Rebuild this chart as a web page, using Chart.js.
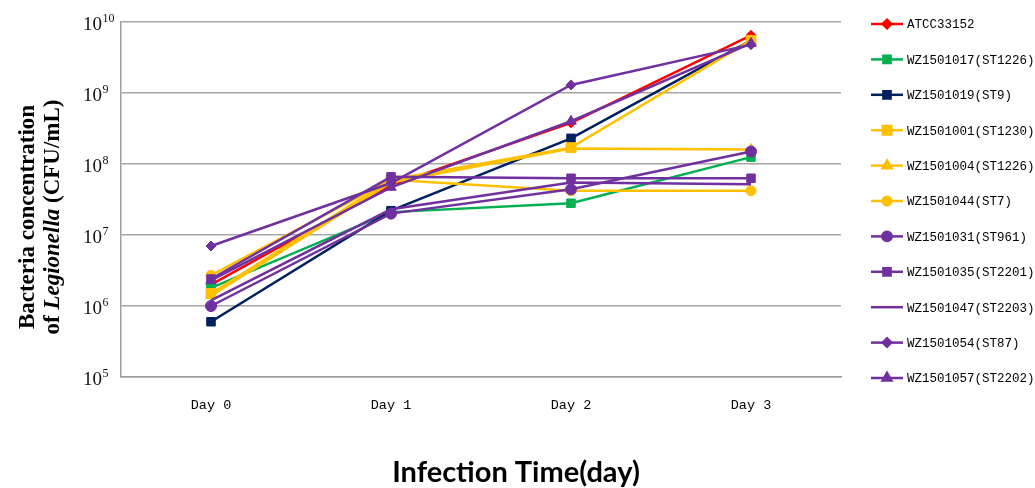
<!DOCTYPE html>
<html>
<head>
<meta charset="utf-8">
<script src="https://cdn.jsdelivr.net/npm/chart.js@4.4.1/dist/chart.umd.min.js"></script>
<style>
  html, body { margin: 0; background: #fff; }
  #wrap { width: 1035px; height: 488px; position: relative; }
</style>
</head>
<body>
<div id="wrap"><canvas id="growthChart"></canvas></div>
<script>
// categories
const days = ["Day 0", "Day 1", "Day 2", "Day 3"];
const yTickValues = [1e5, 1e6, 1e7, 1e8, 1e9, 1e10];
const yTickExponents = ["5", "6", "7", "8", "9", "10"];

// CFU/mL per strain
const atcc33152 = [2.0e6, 5.0e7, 3.8e8, 6.5e9];
const wz1501017 = [1.8e6, 2.1e7, 2.8e7, 1.25e8];
const wz1501019 = [6.0e5, 2.2e7, 2.3e8, 5.5e9];
const wz1501001 = [1.5e6, 6.0e7, 1.7e8, 5.5e9];
const wz1501004 = [1.4e6, 5.5e7, 1.65e8, 1.6e8];
const wz1501044 = [2.7e6, 6.0e7, 4.2e7, 4.2e7];
const wz1501031 = [1.0e6, 2.0e7, 4.4e7, 1.5e8];
const wz1501035 = [2.4e6, 6.6e7, 6.3e7, 6.3e7];
const wz1501047 = [1.2e6, 2.3e7, 5.5e7, 5.2e7];
const wz1501054 = [7.0e6, 5.4e7, 1.3e9, 4.8e9];
const wz1501057 = [2.3e6, 4.7e7, 4.0e8, 5.0e9];

const RED = "#FF0000", GREEN = "#00B050", NAVY = "#002060", ORANGE = "#FFC000", PURPLE = "#7030A0";

const series = [
  { label: "ATCC33152", data: atcc33152, color: RED, style: "rectRot", r: 5 },
  { label: "WZ1501017(ST1226)", data: wz1501017, color: GREEN, style: "rect", r: 6 },
  { label: "WZ1501019(ST9)", data: wz1501019, color: NAVY, style: "rect", r: 6 },
  { label: "WZ1501001(ST1230)", data: wz1501001, color: ORANGE, style: "rect", r: 7 },
  { label: "WZ1501004(ST1226)", data: wz1501004, color: ORANGE, style: "triangle", r: 6 },
  { label: "WZ1501044(ST7)", data: wz1501044, color: ORANGE, style: "circle", r: 5 },
  { label: "WZ1501031(ST961)", data: wz1501031, color: PURPLE, style: "circle", r: 5.5 },
  { label: "WZ1501035(ST2201)", data: wz1501035, color: PURPLE, style: "rect", r: 6 },
  { label: "WZ1501047(ST2203)", data: wz1501047, color: PURPLE, style: false, r: 0 },
  { label: "WZ1501054(ST87)", data: wz1501054, color: PURPLE, style: "rectRot", r: 5 },
  { label: "WZ1501057(ST2202)", data: wz1501057, color: PURPLE, style: "triangle", r: 6 }
];

function drawMarker(ctx, style, r, x, y) {
  if (!style || r <= 0) return;
  if (Chart.helpers && Chart.helpers.drawPoint) {
    Chart.helpers.drawPoint(ctx, { pointStyle: style, radius: r, rotation: 0, borderWidth: 1 }, x, y);
  }
}

// custom legend, power-of-ten tick labels and axis titles
const decorations = {
  id: "decorations",
  afterDraw(chart) {
    const ctx = chart.ctx;
    ctx.save();

    // y tick labels as 10 with raised exponent
    const yScale = chart.scales.y;
    ctx.fillStyle = "#111";
    ctx.textAlign = "left";
    ctx.textBaseline = "alphabetic";
    yTickValues.forEach((v, i) => {
      const py = yScale.getPixelForValue(v);
      ctx.font = "19px 'Liberation Serif'";
      ctx.fillText("10", 83, py + 8);
      const w = ctx.measureText("10").width;
      ctx.font = "12px 'Liberation Serif'";
      ctx.fillText(yTickExponents[i], 83 + w + 0.5, py);
    });

    // legend
    const rowTop = 24, rowGap = 35.4;
    chart.data.datasets.forEach((ds, i) => {
      const y = rowTop + i * rowGap;
      ctx.strokeStyle = ds.borderColor;
      ctx.fillStyle = ds.borderColor;
      ctx.lineWidth = 2.5;
      ctx.beginPath();
      ctx.moveTo(871, y);
      ctx.lineTo(903, y);
      ctx.stroke();
      drawMarker(ctx, ds.pointStyle, series[i].r * 0.85, 887, y);
      ctx.fillStyle = "#000";
      ctx.font = "12.5px 'Liberation Mono'";
      ctx.textAlign = "left";
      ctx.textBaseline = "middle";
      ctx.fillText(ds.label, 907, y + 1);
    });

    // y title, two rotated lines
    ctx.save();
    ctx.translate(0, 217);
    ctx.rotate(-Math.PI / 2);
    ctx.fillStyle = "#000";
    ctx.textBaseline = "middle";
    ctx.textAlign = "center";
    ctx.font = "bold 23px 'Liberation Serif'";
    ctx.fillText("Bacteria concentration", 0, 28);
    const parts = [
      ["of ", "bold 23px 'Liberation Serif'"],
      ["Legionella", "italic bold 23px 'Liberation Serif'"],
      [" (CFU/mL)", "bold 23px 'Liberation Serif'"]
    ];
    let total = 0;
    parts.forEach(p => { ctx.font = p[1]; total += ctx.measureText(p[0]).width; });
    let x = -total / 2;
    ctx.textAlign = "left";
    parts.forEach(p => {
      ctx.font = p[1];
      ctx.fillText(p[0], x, 53);
      x += ctx.measureText(p[0]).width;
    });
    ctx.restore();

    // x title
    ctx.fillStyle = "#000";
    ctx.font = "bold 29px Lato";
    ctx.textAlign = "center";
    ctx.textBaseline = "alphabetic";
    ctx.fillText("Infection Time(day)", 516, 482);

    ctx.restore();
  }
};

const ctx = document.getElementById("growthChart").getContext("2d");
new Chart(ctx, {
  type: "line",
  data: {
    labels: days,
    datasets: series.map((s, i) => ({
      label: s.label,
      data: s.data,
      borderColor: s.color,
      backgroundColor: s.color,
      borderWidth: 2.5,
      pointStyle: s.style,
      pointRadius: s.r,
      pointBorderWidth: 1,
      tension: 0,
      fill: false,
      order: series.length - i
    }))
  },
  options: {
    responsive: true,
    maintainAspectRatio: false,
    animation: false,
    layout: { padding: { left: 83, top: 22, right: 194, bottom: 0 } },
    scales: {
      x: {
        type: "category",
        offset: true,
        grid: { display: false, drawTicks: false },
        border: { display: true, color: "#A0A0A0", width: 1.5 },
        ticks: {
          color: "#000",
          font: { family: "'Liberation Mono'", size: 13.5 },
          padding: 20
        },
        afterFit(scale) { scale.height = 111; }
      },
      y: {
        type: "logarithmic",
        min: 1e5,
        max: 1e10,
        grid: { color: "#A6A6A6", lineWidth: 1.5, drawTicks: false },
        border: { display: true, color: "#A0A0A0", width: 1.5 },
        afterBuildTicks(scale) {
          scale.ticks = yTickValues.map(v => ({ value: v }));
        },
        ticks: { display: false },
        afterFit(scale) { scale.width = 38; }
      }
    },
    plugins: {
      legend: { display: false },
      tooltip: { enabled: false }
    }
  },
  plugins: [decorations]
});
</script>
</body>
</html>
